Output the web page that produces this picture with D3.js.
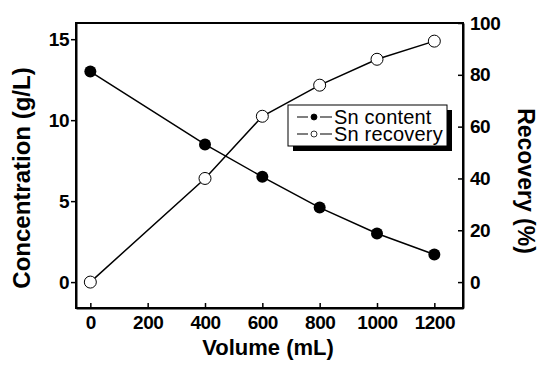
<!DOCTYPE html>
<html>
<head>
<meta charset="utf-8">
<script src="https://cdn.jsdelivr.net/npm/d3@7"></script>
<style>
  body { margin: 0; background: #fff; }
  text { font-family: "Liberation Sans", Arial, sans-serif; }
</style>
</head>
<body>
<script>
// data
const volume = [0, 400, 600, 800, 1000, 1200];
const snContent = [13.0, 8.5, 6.5, 4.6, 3.0, 1.7];     // g/L, left axis
const snRecovery = [0, 40, 64, 76, 86, 93];             // %, right axis
const xTicks = [0, 200, 400, 600, 800, 1000, 1200];
const leftTicks = [0, 5, 10, 15];
const rightTicks = [0, 20, 40, 60, 80, 100];

let width = 541,
    height = 365;

let margin = { top: 23, bottom: 57, left: 76, right: 78 };

let svg = d3.select('body')
  .append('svg')
  .attr('width', width)
  .attr('height', height);

let x = d3.scaleLinear()
  .domain([-50, 1300])
  .range([margin.left, width - margin.right]);

let yL = d3.scaleLinear()
  .domain([-1.6, 16])
  .range([height - margin.bottom, margin.top]);

let yR = d3.scaleLinear()
  .domain([-10, 100])
  .range([height - margin.bottom, margin.top]);

// Frame
svg.append('rect')
  .attr('x', margin.left)
  .attr('y', margin.top)
  .attr('width', width - margin.left - margin.right)
  .attr('height', height - margin.top - margin.bottom)
  .attr('fill', 'none')
  .attr('stroke', 'black')
  .attr('stroke-width', 2);

// Axes
let xAxis = svg.append('g')
  .attr('transform', `translate(0, ${height - margin.bottom})`)
  .call(d3.axisBottom(x).tickValues(xTicks).tickFormat(d3.format('d'))
    .tickSizeInner(-5).tickSizeOuter(0).tickPadding(8));

let leftAxis = svg.append('g')
  .attr('transform', `translate(${margin.left}, 0)`)
  .call(d3.axisLeft(yL).tickValues(leftTicks).tickSizeInner(5).tickSizeOuter(0).tickPadding(2));

let rightAxis = svg.append('g')
  .attr('transform', `translate(${width - margin.right}, 0)`)
  .call(d3.axisRight(yR).tickValues(rightTicks).tickSizeInner(-5).tickSizeOuter(0).tickPadding(7));

[xAxis, leftAxis, rightAxis].forEach(a => {
  a.select('.domain').attr('stroke-width', 2);
  a.selectAll('.tick line').attr('stroke-width', 1.5);
  a.selectAll('.tick text')
    .style('font-size', '19px')
    .style('font-weight', 'bold')
    .style('letter-spacing', '-0.5px')
    .attr('fill', 'black');
});

// Axis titles
svg.append('text')
  .attr('x', 268)
  .attr('y', 355)
  .attr('text-anchor', 'middle')
  .style('font-size', '22px')
  .style('font-weight', 'bold')
  .text('Volume (mL)');

svg.append('text')
  .attr('transform', 'rotate(-90)')
  .attr('x', -178)
  .attr('y', 30)
  .attr('text-anchor', 'middle')
  .style('font-size', '24px')
  .style('font-weight', 'bold')
  .text('Concentration (g/L)');

svg.append('text')
  .attr('transform', 'rotate(90)')
  .attr('x', 181)
  .attr('y', -518)
  .attr('text-anchor', 'middle')
  .style('font-size', '23px')
  .style('font-weight', 'bold')
  .text('Recovery (%)');

// Lines
let contentLine = d3.line()
  .x((d, i) => x(volume[i]))
  .y(d => yL(d));

let recoveryLine = d3.line()
  .x((d, i) => x(volume[i]))
  .y(d => yR(d));

svg.append('path')
  .attr('d', contentLine(snContent))
  .attr('fill', 'none')
  .attr('stroke', 'black')
  .attr('stroke-width', 1.5);

svg.append('path')
  .attr('d', recoveryLine(snRecovery))
  .attr('fill', 'none')
  .attr('stroke', 'black')
  .attr('stroke-width', 1.5);

// Markers
svg.selectAll('.content-dot')
  .data(snContent)
  .enter()
  .append('circle')
  .attr('class', 'content-dot')
  .attr('cx', (d, i) => x(volume[i]))
  .attr('cy', d => yL(d))
  .attr('r', 6)
  .attr('fill', 'black');

svg.selectAll('.recovery-dot')
  .data(snRecovery)
  .enter()
  .append('circle')
  .attr('class', 'recovery-dot')
  .attr('cx', (d, i) => x(volume[i]))
  .attr('cy', d => yR(d))
  .attr('r', 6)
  .attr('fill', 'white')
  .attr('stroke', 'black')
  .attr('stroke-width', 1);

// Legend with drop shadow
let legend = svg.append('g').attr('transform', 'translate(288, 105)');

legend.append('rect')
  .attr('x', 5).attr('y', 5)
  .attr('width', 159).attr('height', 41)
  .attr('fill', 'black');

legend.append('rect')
  .attr('x', 0).attr('y', 0)
  .attr('width', 159).attr('height', 41)
  .attr('fill', 'white')
  .attr('stroke', 'black')
  .attr('stroke-width', 1);

const legendItems = [
  { label: 'Sn content', fill: 'black', y: 12 },
  { label: 'Sn recovery', fill: 'white', y: 29 }
];

legendItems.forEach(item => {
  legend.append('line')
    .attr('x1', 9).attr('x2', 44)
    .attr('y1', item.y).attr('y2', item.y)
    .attr('stroke', 'black')
    .attr('stroke-width', 1.2);
  legend.append('line')
    .attr('x1', 20).attr('x2', 32)
    .attr('y1', item.y).attr('y2', item.y)
    .attr('stroke', 'white')
    .attr('stroke-width', 2);
  legend.append('circle')
    .attr('cx', 26).attr('cy', item.y)
    .attr('r', 3)
    .attr('fill', item.fill)
    .attr('stroke', 'black')
    .attr('stroke-width', 0.8);
  legend.append('text')
    .attr('x', 46)
    .attr('y', item.y + 7)
    .style('font-size', '20px')
    .style('letter-spacing', '0.2px')
    .text(item.label);
});
</script>
</body>
</html>
